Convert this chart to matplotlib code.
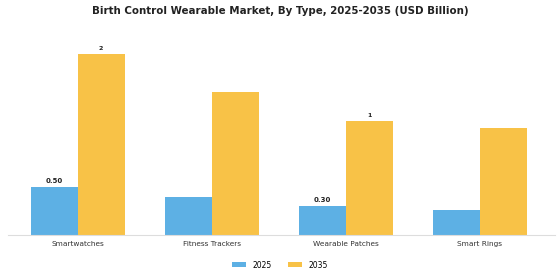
import matplotlib
matplotlib.use("Agg")
import matplotlib.pyplot as plt
import numpy as np

categories = ["Smartwatches", "Fitness Trackers", "Wearable Patches", "Smart Rings"]
values_2025 = [0.50, 0.40, 0.30, 0.26]
values_2035 = [1.88, 1.49, 1.19, 1.11]
labels_2025 = ["0.50", None, "0.30", None]
labels_2035 = ["2", None, "1", None]
series_names = ["2025", "2035"]

fig = plt.figure(figsize=(5.6, 2.8), dpi=100)
ax = fig.add_axes([8/560, 1-235/280, (555-8)/560, (235-33)/280])

x = np.arange(len(categories))
w = 0.35
c1, c2 = "#5DB0E4", "#F8C247"
b1 = ax.bar(x - w/2, values_2025, w, color=c1, label=series_names[0])
b2 = ax.bar(x + w/2, values_2035, w, color=c2, label=series_names[1])

for rect, lab in zip(b1, labels_2025):
    if lab:
        ax.text(rect.get_x() + rect.get_width()/2, rect.get_height() + 0.03, lab,
                ha="center", va="bottom", fontsize=5.0, fontweight="bold", color="#222222")
for rect, lab in zip(b2, labels_2035):
    if lab:
        ax.text(rect.get_x() + rect.get_width()/2, rect.get_height() + 0.03, lab,
                ha="center", va="bottom", fontsize=4.5, fontweight="bold", color="#222222")

ax.set_xlim(-0.52, 3.56)
ax.set_ylim(0, 2.1)
ax.set_xticks(x)
ax.set_xticklabels(categories, fontsize=5.3, color="#333333")
ax.tick_params(axis="x", length=0, pad=4)
ax.set_yticks([])
for s in ["top", "right", "left"]:
    ax.spines[s].set_visible(False)
ax.spines["bottom"].set_color("#dddddd")
ax.spines["bottom"].set_linewidth(0.8)

fig.text(0.5, 1-11/280, "Birth Control Wearable Market, By Type, 2025-2035 (USD Billion)",
         ha="center", va="center", fontsize=7.4, fontweight="bold", color="#222222")

fig.legend(handles=[b1, b2], labels=series_names, loc="center", bbox_to_anchor=(0.5, 1-265/280),
           ncol=2, frameon=False, fontsize=5.5, handlelength=1.8, handleheight=0.55,
           handletextpad=0.9, columnspacing=2.1)

fig.savefig("out.png", dpi=100, facecolor="white")
